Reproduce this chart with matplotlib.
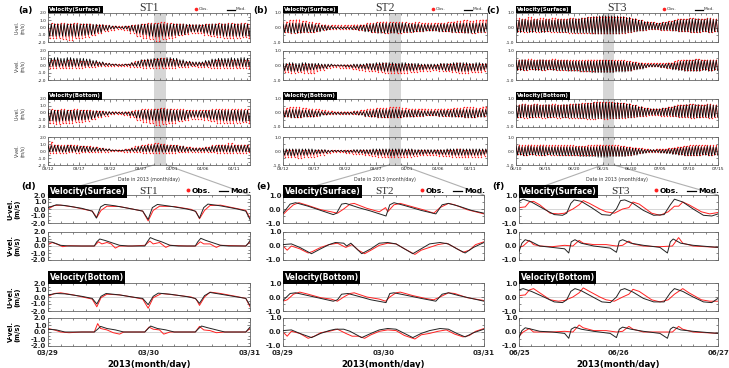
import numpy as np
import matplotlib
matplotlib.use("Agg")
import matplotlib.pyplot as plt
from matplotlib.patches import Rectangle, ConnectionPatch
from matplotlib.lines import Line2D
from matplotlib.transforms import blended_transform_factory as blend
from matplotlib.ticker import MultipleLocator

plt.rcParams['font.family'] = ['DejaVu Sans']

# ====================== DATA ======================
stations = ["ST1", "ST2", "ST3"]
top_tick_st12 = ["03/12", "03/17", "03/22", "03/27", "04/01", "04/06", "04/11"]
top_tick_st3 = ["06/10", "06/15", "06/20", "06/25", "06/30", "07/05", "07/10", "07/15"]
bot_tick_st12 = ["03/29", "03/30", "03/31"]
bot_tick_st3 = ["06/25", "06/26", "06/27"]

# ---- overview panels: daily envelope of tidal extremes (upper / lower) ----
# ST1
st1_us_mhi = [0.5,0.5,0.5,0.5,0.5,0.5,0.5,0.45,0.4,0.3,0.2,0.1,0.2,0.3,0.4,0.45,0.5,0.5,0.5,0.5,0.5,0.5,0.45,0.4,0.4,0.45,0.5,0.5,0.5,0.5,0.5,0.5,0.5]
st1_us_mlo = [-1.2,-1.2,-1.2,-1.2,-1.2,-1.1,-1.0,-0.9,-0.7,-0.4,-0.2,-0.1,-0.2,-0.5,-0.8,-1.0,-1.2,-1.3,-1.2,-1.2,-1.1,-1.0,-0.8,-0.6,-0.6,-0.8,-1.0,-1.1,-1.2,-1.2,-1.2,-1.2,-1.2]
st1_us_ohi = [0.6,0.5,0.6,0.5,0.6,0.5,0.5,0.4,0.4,0.3,0.2,0.2,0.2,0.3,0.4,0.5,0.6,0.6,0.7,0.6,0.5,0.5,0.4,0.4,0.4,0.5,0.5,0.6,0.5,0.6,0.5,0.6,0.5]
st1_us_olo = [-1.4,-1.5,-1.6,-1.7,-1.5,-1.4,-1.3,-1.1,-0.8,-0.5,-0.3,-0.2,-0.3,-0.7,-1.2,-1.5,-1.6,-1.8,-1.6,-1.5,-1.3,-1.1,-0.9,-0.7,-0.8,-1.0,-1.2,-1.3,-1.4,-1.5,-1.4,-1.3,-1.4]
st1_vs_mhi = [1.0,1.1,1.0,1.1,1.0,1.0,0.9,0.7,0.5,0.3,0.2,0.1,0.2,0.4,0.6,0.8,0.9,1.0,1.0,1.1,1.0,0.8,0.6,0.5,0.5,0.7,0.9,1.0,1.0,1.1,1.0,1.1,1.0]
st1_vs_mlo = [-0.1,-0.15,-0.1,-0.15,-0.1,-0.1,-0.1,-0.05,-0.05,0.0,0.0,0.0,0.0,-0.05,-0.1,-0.1,-0.15,-0.1,-0.15,-0.1,-0.1,-0.1,-0.05,-0.05,-0.05,-0.1,-0.1,-0.15,-0.1,-0.15,-0.1,-0.15,-0.1]
st1_vs_ohi = [0.7,0.8,0.6,0.8,0.7,0.6,0.6,0.5,0.4,0.3,0.2,0.2,0.2,0.4,0.6,0.7,0.8,0.9,1.0,0.9,0.8,0.6,0.5,0.4,0.4,0.5,0.7,0.8,0.7,0.8,0.7,0.8,0.7]
st1_vs_olo = [-0.3,-0.3,-0.4,-0.3,-0.3,-0.3,-0.2,-0.2,-0.1,-0.1,-0.1,-0.1,-0.1,-0.2,-0.2,-0.3,-0.3,-0.3,-0.4,-0.3,-0.3,-0.2,-0.2,-0.1,-0.2,-0.2,-0.3,-0.3,-0.3,-0.3,-0.4,-0.3,-0.3]
st1_ub_mhi = [0.4,0.4,0.4,0.4,0.4,0.4,0.35,0.3,0.25,0.2,0.15,0.1,0.15,0.2,0.3,0.4,0.4,0.5,0.6,0.5,0.4,0.4,0.35,0.3,0.3,0.35,0.4,0.4,0.4,0.4,0.4,0.4,0.4]
st1_ub_mlo = [-1.1,-1.2,-1.1,-1.1,-1.0,-1.0,-0.9,-0.7,-0.5,-0.3,-0.15,-0.1,-0.2,-0.4,-0.7,-0.9,-1.0,-1.1,-1.1,-1.2,-1.1,-1.0,-0.8,-0.6,-0.6,-0.7,-0.9,-1.0,-1.1,-1.1,-1.1,-1.2,-1.1]
st1_ub_ohi = [0.5,0.4,0.5,0.4,0.5,0.4,0.4,0.35,0.3,0.2,0.2,0.2,0.2,0.3,0.4,0.5,0.5,0.6,0.7,0.6,0.5,0.5,0.4,0.4,0.4,0.4,0.5,0.5,0.5,0.5,0.5,0.5,0.5]
st1_ub_olo = [-1.4,-1.6,-1.5,-1.4,-1.3,-1.3,-1.1,-0.9,-0.6,-0.4,-0.2,-0.2,-0.3,-0.6,-1.0,-1.3,-1.5,-1.7,-1.6,-1.5,-1.4,-1.2,-1.0,-0.8,-0.8,-1.0,-1.2,-1.4,-1.4,-1.5,-1.4,-1.3,-1.4]
st1_vb_mhi = [0.8,0.8,0.7,0.8,0.7,0.7,0.6,0.5,0.4,0.3,0.15,0.1,0.2,0.4,0.6,0.7,0.8,0.9,0.9,0.8,0.8,0.7,0.5,0.4,0.4,0.5,0.7,0.8,0.8,0.8,0.8,0.8,0.8]
st1_vb_mlo = [-0.1,-0.1,-0.15,-0.1,-0.1,-0.1,-0.1,-0.05,-0.05,0.0,0.0,0.0,0.0,-0.05,-0.05,-0.1,-0.1,-0.1,-0.15,-0.1,-0.1,-0.1,-0.05,-0.05,-0.05,-0.05,-0.1,-0.1,-0.1,-0.15,-0.1,-0.1,-0.1]
st1_vb_ohi = [1.3,0.9,0.8,0.9,0.8,0.7,0.7,0.6,0.4,0.3,0.2,0.2,0.3,0.5,0.7,0.8,1.0,1.1,1.0,0.9,0.8,0.7,0.6,0.5,0.5,0.6,0.8,0.9,0.9,1.1,0.9,0.9,0.8]
st1_vb_olo = [-0.25,-0.3,-0.25,-0.2,-0.25,-0.2,-0.2,-0.15,-0.1,-0.1,-0.05,-0.05,-0.1,-0.15,-0.2,-0.25,-0.3,-0.3,-0.25,-0.3,-0.25,-0.2,-0.15,-0.1,-0.1,-0.15,-0.2,-0.25,-0.3,-0.25,-0.3,-0.25,-0.2]
# ST2
st2_us_mhi = [0.25,0.3,0.3,0.3,0.25,0.2,0.15,0.1,0.05,0.05,0.05,0.1,0.15,0.2,0.25,0.3,0.3,0.3,0.3,0.3,0.25,0.25,0.2,0.2,0.2,0.25,0.25,0.3,0.3,0.3,0.3,0.3,0.3]
st2_us_mlo = [-0.35,-0.4,-0.4,-0.35,-0.35,-0.3,-0.2,-0.15,-0.1,-0.1,-0.1,-0.15,-0.2,-0.3,-0.35,-0.4,-0.4,-0.4,-0.4,-0.35,-0.35,-0.3,-0.3,-0.25,-0.25,-0.3,-0.3,-0.35,-0.35,-0.4,-0.4,-0.35,-0.35]
st2_us_ohi = [0.4,0.5,0.55,0.45,0.35,0.3,0.2,0.15,0.15,0.15,0.15,0.2,0.2,0.3,0.3,0.35,0.4,0.35,0.35,0.35,0.3,0.35,0.3,0.3,0.3,0.3,0.35,0.4,0.45,0.5,0.45,0.5,0.55]
st2_us_olo = [-0.3,-0.35,-0.3,-0.3,-0.3,-0.25,-0.15,-0.1,-0.1,-0.1,-0.1,-0.1,-0.15,-0.2,-0.3,-0.3,-0.35,-0.3,-0.35,-0.3,-0.3,-0.25,-0.25,-0.2,-0.2,-0.25,-0.25,-0.3,-0.3,-0.3,-0.35,-0.3,-0.3]
st2_vs_mhi = [0.15,0.2,0.15,0.2,0.15,0.15,0.1,0.1,0.05,0.05,0.05,0.1,0.1,0.15,0.15,0.2,0.2,0.2,0.15,0.2,0.15,0.15,0.1,0.1,0.1,0.15,0.15,0.2,0.2,0.2,0.15,0.2,0.15]
st2_vs_mlo = [-0.35,-0.4,-0.4,-0.35,-0.3,-0.25,-0.2,-0.1,-0.05,-0.05,-0.1,-0.15,-0.2,-0.25,-0.3,-0.35,-0.4,-0.4,-0.4,-0.35,-0.35,-0.3,-0.3,-0.25,-0.25,-0.3,-0.35,-0.35,-0.4,-0.4,-0.35,-0.35,-0.3]
st2_vs_ohi = [0.1,0.1,0.05,0.1,0.1,0.05,0.05,0.05,0.05,0.05,0.05,0.05,0.05,0.1,0.1,0.1,0.15,0.1,0.1,0.1,0.1,0.05,0.05,0.05,0.05,0.1,0.1,0.1,0.15,0.1,0.1,0.1,0.1]
st2_vs_olo = [-0.45,-0.5,-0.45,-0.5,-0.55,-0.4,-0.3,-0.15,-0.1,-0.15,-0.2,-0.25,-0.3,-0.35,-0.4,-0.45,-0.5,-0.5,-0.55,-0.5,-0.45,-0.45,-0.4,-0.35,-0.3,-0.35,-0.4,-0.45,-0.5,-0.5,-0.45,-0.45,-0.4]
st2_ub_mhi = [0.2,0.25,0.25,0.2,0.2,0.15,0.1,0.05,0.05,0.05,0.05,0.1,0.1,0.15,0.2,0.25,0.25,0.25,0.25,0.2,0.2,0.2,0.15,0.15,0.15,0.2,0.2,0.25,0.25,0.25,0.25,0.25,0.25]
st2_ub_mlo = [-0.3,-0.35,-0.35,-0.3,-0.3,-0.25,-0.15,-0.1,-0.1,-0.1,-0.1,-0.1,-0.15,-0.25,-0.3,-0.35,-0.35,-0.35,-0.35,-0.3,-0.3,-0.25,-0.25,-0.2,-0.2,-0.25,-0.25,-0.3,-0.3,-0.35,-0.35,-0.3,-0.3]
st2_ub_ohi = [0.35,0.4,0.4,0.35,0.3,0.25,0.2,0.15,0.1,0.1,0.1,0.15,0.2,0.25,0.3,0.35,0.35,0.4,0.4,0.35,0.3,0.3,0.3,0.25,0.25,0.3,0.3,0.35,0.35,0.4,0.4,0.35,0.45]
st2_ub_olo = [-0.25,-0.3,-0.3,-0.25,-0.25,-0.2,-0.1,-0.1,-0.05,-0.05,-0.05,-0.1,-0.1,-0.2,-0.25,-0.3,-0.3,-0.3,-0.3,-0.25,-0.25,-0.2,-0.2,-0.15,-0.15,-0.2,-0.2,-0.25,-0.25,-0.3,-0.3,-0.25,-0.25]
st2_vb_mhi = [0.15,0.15,0.15,0.15,0.15,0.1,0.1,0.05,0.05,0.05,0.05,0.1,0.1,0.1,0.15,0.15,0.15,0.15,0.15,0.15,0.15,0.1,0.1,0.1,0.1,0.1,0.15,0.15,0.15,0.15,0.15,0.15,0.15]
st2_vb_mlo = [-0.3,-0.35,-0.3,-0.3,-0.25,-0.2,-0.15,-0.1,-0.05,-0.05,-0.1,-0.1,-0.15,-0.2,-0.25,-0.3,-0.3,-0.35,-0.3,-0.3,-0.3,-0.25,-0.25,-0.2,-0.2,-0.25,-0.25,-0.3,-0.3,-0.3,-0.3,-0.3,-0.25]
st2_vb_ohi = [0.1,0.1,0.1,0.05,0.05,0.05,0.05,0.05,0.05,0.05,0.05,0.05,0.05,0.05,0.1,0.1,0.1,0.1,0.1,0.1,0.1,0.05,0.05,0.05,0.05,0.05,0.1,0.1,0.15,0.1,0.1,0.1,0.1]
st2_vb_olo = [-0.4,-0.45,-0.5,-0.4,-0.4,-0.35,-0.25,-0.15,-0.1,-0.1,-0.15,-0.2,-0.2,-0.3,-0.35,-0.4,-0.45,-0.45,-0.4,-0.45,-0.4,-0.35,-0.3,-0.3,-0.3,-0.35,-0.35,-0.4,-0.4,-0.45,-0.4,-0.4,-0.35]
# ST3
st3_us_mhi = [0.5,0.55,0.5,0.55,0.5,0.55,0.5,0.55,0.55,0.6,0.6,0.65,0.7,0.75,0.8,0.8,0.8,0.8,0.75,0.7,0.6,0.5,0.4,0.35,0.3,0.35,0.4,0.5,0.55,0.55,0.6,0.6,0.55,0.6,0.55]
st3_us_mlo = [-0.35,-0.3,-0.35,-0.3,-0.35,-0.3,-0.3,-0.35,-0.35,-0.35,-0.4,-0.4,-0.4,-0.45,-0.45,-0.45,-0.45,-0.45,-0.4,-0.35,-0.3,-0.25,-0.2,-0.15,-0.15,-0.2,-0.2,-0.25,-0.3,-0.3,-0.35,-0.35,-0.3,-0.35,-0.3]
st3_us_ohi = [0.65,0.6,0.7,0.6,0.65,0.6,0.65,0.6,0.6,0.65,0.6,0.65,0.7,0.7,0.75,0.75,0.75,0.7,0.7,0.65,0.6,0.5,0.4,0.35,0.3,0.35,0.45,0.5,0.6,0.6,0.65,0.6,0.6,0.65,0.6]
st3_us_olo = [-0.25,-0.3,-0.25,-0.3,-0.25,-0.25,-0.3,-0.3,-0.3,-0.35,-0.35,-0.35,-0.35,-0.4,-0.4,-0.4,-0.35,-0.35,-0.35,-0.3,-0.25,-0.2,-0.15,-0.1,-0.1,-0.15,-0.15,-0.2,-0.25,-0.25,-0.3,-0.3,-0.25,-0.3,-0.25]
st3_vs_mhi = [0.35,0.4,0.35,0.35,0.4,0.35,0.35,0.35,0.35,0.3,0.3,0.3,0.3,0.3,0.35,0.35,0.35,0.3,0.3,0.25,0.2,0.15,0.1,0.1,0.1,0.1,0.15,0.2,0.3,0.35,0.35,0.4,0.35,0.35,0.35]
st3_vs_mlo = [-0.35,-0.35,-0.3,-0.35,-0.35,-0.3,-0.35,-0.35,-0.35,-0.4,-0.4,-0.45,-0.45,-0.5,-0.5,-0.5,-0.5,-0.45,-0.45,-0.4,-0.3,-0.25,-0.15,-0.1,-0.1,-0.15,-0.2,-0.3,-0.35,-0.4,-0.4,-0.4,-0.35,-0.4,-0.35]
st3_vs_ohi = [0.4,0.4,0.45,0.4,0.4,0.4,0.45,0.4,0.4,0.35,0.35,0.35,0.4,0.4,0.4,0.4,0.35,0.35,0.35,0.3,0.25,0.2,0.15,0.15,0.15,0.15,0.2,0.3,0.35,0.4,0.4,0.45,0.4,0.4,0.4]
st3_vs_olo = [-0.25,-0.3,-0.25,-0.25,-0.3,-0.25,-0.25,-0.3,-0.3,-0.3,-0.3,-0.35,-0.35,-0.35,-0.35,-0.35,-0.35,-0.3,-0.3,-0.3,-0.25,-0.2,-0.1,-0.05,-0.05,-0.1,-0.15,-0.2,-0.25,-0.3,-0.3,-0.3,-0.25,-0.3,-0.25]
st3_ub_mhi = [0.55,0.6,0.55,0.6,0.55,0.6,0.55,0.55,0.6,0.6,0.65,0.65,0.7,0.75,0.75,0.75,0.75,0.75,0.7,0.65,0.55,0.45,0.35,0.3,0.3,0.35,0.4,0.5,0.55,0.6,0.6,0.6,0.55,0.6,0.55]
st3_ub_mlo = [-0.35,-0.3,-0.35,-0.3,-0.3,-0.35,-0.3,-0.3,-0.35,-0.35,-0.35,-0.4,-0.4,-0.4,-0.4,-0.4,-0.4,-0.4,-0.35,-0.35,-0.3,-0.25,-0.2,-0.15,-0.15,-0.2,-0.2,-0.25,-0.3,-0.3,-0.35,-0.35,-0.3,-0.35,-0.3]
st3_ub_ohi = [0.6,0.65,0.6,0.65,0.6,0.6,0.65,0.6,0.6,0.65,0.65,0.7,0.7,0.75,0.8,0.75,0.75,0.7,0.7,0.65,0.55,0.45,0.35,0.3,0.3,0.35,0.45,0.5,0.6,0.6,0.65,0.6,0.6,0.65,0.6]
st3_ub_olo = [-0.3,-0.35,-0.3,-0.3,-0.35,-0.3,-0.3,-0.35,-0.3,-0.35,-0.35,-0.35,-0.4,-0.4,-0.35,-0.4,-0.35,-0.35,-0.35,-0.3,-0.3,-0.25,-0.2,-0.15,-0.15,-0.2,-0.2,-0.25,-0.3,-0.3,-0.35,-0.3,-0.3,-0.35,-0.3]
st3_vb_mhi = [0.35,0.3,0.35,0.3,0.35,0.3,0.3,0.3,0.3,0.3,0.3,0.3,0.3,0.3,0.35,0.35,0.35,0.3,0.3,0.25,0.2,0.15,0.1,0.1,0.1,0.1,0.15,0.2,0.25,0.3,0.3,0.35,0.3,0.35,0.3]
st3_vb_mlo = [-0.3,-0.35,-0.3,-0.3,-0.35,-0.3,-0.3,-0.35,-0.35,-0.35,-0.35,-0.4,-0.4,-0.4,-0.45,-0.45,-0.4,-0.4,-0.4,-0.35,-0.3,-0.2,-0.15,-0.1,-0.1,-0.15,-0.2,-0.25,-0.3,-0.35,-0.35,-0.35,-0.3,-0.35,-0.3]
st3_vb_ohi = [0.45,0.4,0.45,0.4,0.45,0.4,0.4,0.4,0.4,0.4,0.35,0.35,0.4,0.4,0.45,0.4,0.4,0.4,0.35,0.3,0.25,0.2,0.15,0.1,0.15,0.15,0.2,0.25,0.3,0.35,0.4,0.4,0.4,0.4,0.4]
st3_vb_olo = [-0.2,-0.25,-0.2,-0.25,-0.25,-0.2,-0.25,-0.25,-0.25,-0.25,-0.3,-0.3,-0.3,-0.3,-0.3,-0.3,-0.3,-0.3,-0.25,-0.25,-0.2,-0.15,-0.1,-0.05,-0.05,-0.1,-0.1,-0.15,-0.2,-0.25,-0.25,-0.25,-0.2,-0.25,-0.2]

# ---- zoomed panels: (hour since start, velocity) ----
# ST1 (d)
d_us_mt = [0,2,4,8,10.5,11.5,12.5,13.5,16,20,22.5,23.8,24.8,26,29,33,35,36,37,38,41,45,47,48]
d_us_mv = [0.2,0.6,0.5,0.1,-0.3,-1.3,0.3,0.65,0.45,0.0,-0.3,-1.5,0.2,0.65,0.4,0.0,-0.3,-1.3,0.2,0.7,0.45,0.0,-0.3,-1.5]
d_us_ot = [0,1.5,3,6,10.5,11.6,12.6,14,17,20,22.5,23.8,25,26.5,30,34,35.2,36,37.2,38.5,41,45,47,48]
d_us_ov = [0.0,0.5,0.55,0.3,-0.3,-1.2,-0.2,0.4,0.35,0.0,-0.3,-1.7,-0.2,0.4,0.35,-0.05,-0.4,-1.4,-0.2,0.5,0.55,0.05,-0.2,-1.3]
d_vs_mt = [0,1,3,5,11,11.6,12.3,13.5,15,17,19,23,23.6,24.3,25.5,27,29,31,35,35.6,36.3,37.5,39,41,43,47,47.6,48]
d_vs_mv = [0.6,0.55,0.1,0.0,0.0,0.6,1.0,0.8,0.5,0.1,0.0,0.0,0.6,1.2,0.9,0.6,0.1,0.0,0.0,0.6,1.1,0.8,0.5,0.1,0.0,0.0,0.4,0.8]
d_vs_ot = [0,1,2,3.5,5,8,11,12,12.8,14,15,16,17,20,23,24.2,25,26.5,28,29,33,35,36.2,37,38.5,40,41,44,47,48]
d_vs_ov = [0.2,0.5,0.3,-0.1,0.05,0.0,0.0,0.6,0.3,0.5,0.3,-0.3,0.0,0.0,0.1,0.7,0.3,0.5,-0.2,0.1,0.0,0.0,0.6,0.3,0.3,-0.2,0.1,0.05,0.0,0.6]
d_ub_mt = [0,2,4,8,10.5,11.6,12.6,13.8,17,20,22.5,23.8,25,26.2,29,33,35,36,37.2,38.5,41,45,47,48]
d_ub_mv = [0.3,0.5,0.45,0.1,-0.2,-1.0,0.1,0.5,0.3,0.0,-0.2,-1.1,0.1,0.55,0.4,0.05,-0.2,-0.9,0.2,0.65,0.4,0.0,-0.2,-1.2]
d_ub_ot = [0,1.5,3,6,10.5,11.6,12.6,14,17,20,22.5,23.8,25,27,30,34,35.2,36,37.2,38.5,41,45,47,48]
d_ub_ov = [0.1,0.5,0.6,0.3,-0.3,-1.4,-0.1,0.4,0.3,0.0,-0.3,-1.6,-0.1,0.5,0.3,0.0,-0.3,-1.2,0.0,0.7,0.5,0.05,-0.2,-1.4]
d_vb_mt = [0,2,4,11,11.8,12.5,14,16,18,23,23.8,24.4,26,28,30,35,35.8,36.5,38,40,42,47,48]
d_vb_mv = [0.4,0.3,0.0,0.0,0.4,0.8,0.5,0.3,0.0,0.0,0.5,0.85,0.5,0.3,0.0,0.0,0.5,0.85,0.6,0.3,0.0,0.0,0.7]
d_vb_ot = [0,1.5,3,5,8,11,11.8,12.5,14,15.5,17,18,23,24,25,26.5,27.5,29,35,36,37,38.5,40,42,47,48]
d_vb_ov = [0.5,0.3,0.0,-0.1,0.0,0.0,1.2,0.5,0.3,-0.1,-0.3,0.0,0.0,0.7,0.4,0.3,-0.3,0.0,0.0,0.8,0.3,0.2,-0.1,0.0,0.0,0.5]
# ST2 (e)
e_us_mt = [0,1.7,3,6,9,12,12.8,14,15,18,21,24.6,25.5,26.5,29,33,36.5,38,39.5,42,45,48]
e_us_mv = [-0.3,0.35,0.45,0.2,-0.1,-0.4,-0.3,0.35,0.4,0.1,-0.15,-0.5,0.3,0.45,0.25,-0.1,-0.35,0.3,0.4,0.2,-0.1,-0.3]
e_us_ot = [0,1,2.5,3.8,6,9,11.5,13,14.5,16,17,20,23,24.5,25,26.5,28,31,34,36,37.5,39.5,41,44,48]
e_us_ov = [-0.4,-0.1,0.3,0.45,0.25,-0.05,-0.2,-0.3,0.0,0.35,0.4,0.05,-0.2,0.1,-0.2,0.3,0.4,0.15,-0.1,-0.3,0.1,0.4,0.3,-0.05,-0.35]
e_vs_mt = [0,2,4,6.8,9,11,12.5,14.5,15.2,16.2,18.8,21,23,25,27,29,31,33,35,37.5,39.5,41.5,43.5,45.5,48]
e_vs_mv = [0.1,0.15,-0.1,-0.55,-0.2,0.1,0.25,0.2,0.0,0.2,-0.55,-0.2,0.2,0.25,0.15,-0.2,-0.55,-0.2,0.15,0.25,0.15,-0.2,-0.5,-0.1,0.25]
e_vs_ot = [0,1,2,4,6,7,9,11,13,15,16.5,18,19.5,21,23,25,27,29,31.5,33,35,37,39,41,43,44.5,46,48]
e_vs_ov = [0.0,-0.3,0.0,-0.2,-0.5,-0.4,-0.1,0.1,0.2,-0.1,0.1,-0.3,-0.55,-0.3,0.05,0.2,0.15,-0.2,-0.6,-0.3,-0.1,0.1,0.2,-0.1,-0.45,-0.3,0.1,0.3]
e_ub_mt = [0,1.7,3,6,9,12,13,14,15.5,18,21,24.6,25.5,26.5,29,33,36.5,38,39.5,42,45,48]
e_ub_mv = [-0.25,0.25,0.3,0.1,-0.1,-0.3,-0.2,0.2,0.25,0.05,-0.2,-0.4,0.25,0.3,0.15,-0.1,-0.3,0.2,0.3,0.1,-0.1,-0.3]
e_ub_ot = [0,1,2.5,4,6,9,11.5,13,14.5,16,17,20,23,24.5,25.5,27,28,31,34,36,37.5,39.5,41,44,48]
e_ub_ov = [-0.3,-0.2,0.2,0.35,0.2,-0.05,-0.15,-0.3,0.0,0.25,0.3,0.0,-0.15,-0.3,0.0,0.3,0.35,0.1,-0.1,-0.2,0.0,0.3,0.25,-0.05,-0.25]
e_vb_mt = [0,2,4,6.8,9,11,12.5,14.5,16,18.8,21,23,25,27,29,31,33,35,37.5,39.5,41.5,43.5,45.5,48]
e_vb_mv = [0.1,0.15,-0.1,-0.4,-0.1,0.1,0.2,0.2,0.05,-0.4,-0.1,0.15,0.25,0.2,-0.1,-0.4,-0.1,0.1,0.25,0.2,-0.1,-0.35,-0.05,0.2]
e_vb_ot = [0,1,2,4,6,7.5,9,11,13,15,16.5,18,19.5,21,23,25,27,29,31.5,33,35,37,39,41,43,44.5,46,48]
e_vb_ov = [0.0,-0.3,0.05,-0.1,-0.45,-0.3,-0.05,0.05,0.2,-0.1,-0.3,-0.3,-0.45,-0.2,0.05,0.15,0.1,-0.25,-0.5,-0.2,-0.1,0.05,0.15,-0.15,-0.35,-0.25,0.05,0.25]
# ST3 (f)
f_us_mt = [0,1,3,6,8.5,10.5,11.5,12.5,13.3,15,17.5,20,22,23.5,24.5,25.5,27.5,30,32.5,35,36.5,37.5,39.5,42,44.5,46.5,48]
f_us_mv = [0.55,0.7,0.5,0.0,-0.4,-0.45,-0.3,0.4,0.65,0.55,0.1,-0.4,-0.45,0.0,0.6,0.65,0.4,-0.1,-0.45,-0.4,0.3,0.7,0.5,0.0,-0.45,-0.5,-0.35]
f_us_ot = [0,1.5,2.5,3.5,5,7.5,9.5,11,13,14.5,15.5,17,19.5,21,23,25,26.5,27.5,29,32,34,36,37.5,38.5,39.5,41,44,46,48]
f_us_ov = [0.1,0.15,0.5,0.55,0.3,-0.3,-0.35,-0.3,0.0,0.3,0.6,0.4,0.0,-0.2,-0.3,0.0,0.1,0.5,0.35,-0.3,-0.45,-0.2,0.2,0.2,0.5,0.3,-0.2,-0.35,-0.25]
f_vs_mt = [0,0.7,1.5,3,5,8,11,12,12.6,13.5,15,18,22,23.5,24.2,25,27,30,34,35.8,36.5,37.2,39,42,48]
f_vs_mv = [-0.4,0.2,0.45,0.3,0.0,-0.1,-0.2,-0.5,0.3,0.45,0.2,0.0,-0.15,-0.45,0.35,0.45,0.2,0.05,-0.1,-0.5,0.3,0.5,0.2,0.05,-0.1]
f_vs_ot = [0,1,2.5,3.5,5,8,11,13,14.5,15.5,18,21,23.5,25,26.5,27.5,30,34,37,38.5,39.5,42,48]
f_vs_ov = [-0.1,0.0,0.4,0.1,0.0,-0.05,0.05,0.0,0.4,0.2,0.1,0.1,0.0,0.05,0.35,0.15,0.0,-0.05,0.0,0.6,0.2,0.0,-0.1]
f_ub_mt = [0,1,3,6,8.5,10.5,11.5,12.5,13.5,15,17.5,20,22,23.5,24.5,25.5,27.5,30,32.5,35,36.5,37.5,39.5,42,44.5,46.5,48]
f_ub_mv = [0.5,0.6,0.4,0.0,-0.35,-0.4,-0.2,0.4,0.6,0.45,0.05,-0.35,-0.4,0.0,0.5,0.6,0.35,-0.1,-0.35,-0.35,0.3,0.6,0.4,0.0,-0.35,-0.4,-0.1]
f_ub_ot = [0,1.5,2.5,3.5,5,7.5,9.5,11,13,14.5,15.5,17,19.5,21,23,25,26.5,27.5,29,32,34,36,37.5,39.5,41,44,46,48]
f_ub_ov = [0.1,0.15,0.5,0.6,0.3,-0.2,-0.3,-0.25,0.0,0.3,0.65,0.4,0.0,-0.2,-0.3,0.0,0.2,0.55,0.4,-0.2,-0.35,-0.2,0.2,0.6,0.3,-0.2,-0.3,-0.3]
f_vb_mt = [0,0.7,1.5,3,5,8,11,12,12.6,13.5,15,18,22,23.5,24.2,25,27,30,34,35.8,36.5,37.2,39,42,48]
f_vb_mv = [-0.4,0.1,0.3,0.2,0.05,0.0,-0.1,-0.45,0.2,0.35,0.2,0.05,-0.1,-0.4,0.2,0.35,0.2,0.05,-0.1,-0.45,0.2,0.35,0.15,0.05,-0.1]
f_vb_ot = [0,1,2.5,3.5,5,8,11,13,14.5,15.5,18,21,23.5,25,26.5,27.5,30,34,37,38.5,39.5,42,48]
f_vb_ov = [-0.3,0.0,0.25,0.0,0.0,0.0,0.05,0.0,0.5,0.3,0.1,0.1,0.0,0.05,0.4,0.2,0.0,0.0,0.0,0.4,0.2,0.0,-0.1]

# ====================== LAYOUT ======================
W, H = 729, 368
fig = plt.figure(figsize=(7.29, 3.68), dpi=100)

def R(x0, x1, y0, y1):
    return [x0 / W, 1 - y1 / H, (x1 - x0) / W, (y1 - y0) / H]

def FX(x): return x / W
def FY(y): return 1 - y / H

RED = '#ff2020'
HALF_TIDE = 12.42 / 48.0

def tidal_trace(hi, lo, shift):
    t = np.arange(shift, len(hi), HALF_TIDE)
    k = np.arange(t.size)
    d = np.clip(t.astype(int), 0, len(hi) - 1)
    v = np.where(k % 2 == 0, np.asarray(hi)[d], np.asarray(lo)[d])
    return t, v

def style(ax, fs):
    ax.set_facecolor('none')
    ax.tick_params(which='both', direction='in', top=True, right=True,
                   color='#555555', labelcolor='#222222', labelsize=fs,
                   pad=1.2, width=0.5)
    ax.tick_params(which='major', length=2.2)
    ax.tick_params(which='minor', length=1.2)
    for s in ax.spines.values():
        s.set_linewidth(0.6)
        s.set_color('#666666')

def header(x, y, s, fs):
    fig.text(FX(x), FY(y), s, color='white', fontweight='bold', fontsize=fs,
             va='center', ha='left',
             bbox=dict(boxstyle='square,pad=0.2', fc='black', ec='none'))

rows_top = [(13, 42), (51, 80), (99, 127), (137, 165)]
rows_bot = [(195, 223), (232, 260), (283, 311), (318, 346)]
ylabels = ["U-vel.\n(m/s)", "V-vel.\n(m/s)", "U-vel.\n(m/s)", "V-vel.\n(m/s)"]

def top_panel(x0, x1, letter, st, series, ylim, xmax, ticklabels, band, show_ylab):
    axes = []
    for i, (y0, y1) in enumerate(rows_top):
        ax = fig.add_axes(R(x0, x1, y0, y1))
        style(ax, 3.2)
        mhi, mlo, ohi, olo = series[i]
        to, vo = tidal_trace(ohi, olo, 0.06)
        tm, vm = tidal_trace(mhi, mlo, 0.0)
        ax.plot(to, vo, color=RED, lw=0.35, marker='o', ms=1.0, mew=0, zorder=2)
        ax.plot(tm, vm, color='black', lw=0.55, zorder=3)
        ax.set_xlim(0, xmax)
        ax.set_ylim(-ylim, ylim)
        yt = np.arange(-ylim, ylim + 0.01, 1.0)
        ax.set_yticks(yt, ['%.1f' % v for v in yt])
        ax.yaxis.set_minor_locator(MultipleLocator(0.5))
        ax.set_xticks(np.arange(len(ticklabels)) * 5)
        ax.xaxis.set_minor_locator(MultipleLocator(1))
        if i < 3:
            ax.set_xticklabels([])
        else:
            ax.set_xticklabels(ticklabels)
        if show_ylab:
            fig.text(FX(20), FY((y0 + y1) / 2), ylabels[i], rotation=90,
                     fontsize=3.3, ha='center', va='center', color='#333333',
                     linespacing=1.1)
        axes.append(ax)
    # shaded window
    tr = blend(axes[0].transData, fig.transFigure)
    fig.add_artist(Rectangle((band[0], FY(165)), band[1] - band[0],
                             (165 - 13) / H, transform=tr,
                             fc='#d6d6d6', ec='none', zorder=-1))
    header(x0 + 1.2, 9.5, "Velocity(Surface)", 3.9)
    header(x0 + 1.2, 96, "Velocity(Bottom)", 3.9)
    fig.text(FX((x0 + x1) / 2), FY(8), st, family='Liberation Serif',
             fontsize=8.5, ha='center', va='center', color='#333333')
    fig.text(FX(x0 - 30), FY(11), letter, fontsize=6.5, fontweight='bold',
             ha='left', va='center')
    fig.add_artist(Line2D([FX(x1 - 54)], [FY(9)], marker='o', ms=2.6,
                          color=RED, mew=0, transform=fig.transFigure))
    fig.text(FX(x1 - 51), FY(9.5), "Obs.", fontsize=3.2, ha='left',
             va='center', color='#333333')
    fig.add_artist(Line2D([FX(x1 - 23), FX(x1 - 15)], [FY(9.5), FY(9.5)],
                          color='black', lw=0.9, transform=fig.transFigure))
    fig.text(FX(x1 - 14), FY(9.5), "Mod.", fontsize=3.2, ha='left',
             va='center', color='#333333')
    fig.text(FX((x0 + x1) / 2), FY(180), "Date in 2013 (month/day)",
             fontsize=3.4, ha='center', va='center', color='#333333')
    return axes

def bot_panel(x0, x1, letter, st, series, ylim, ticklabels, show_ylab):
    axes = []
    for i, (y0, y1) in enumerate(rows_bot):
        ax = fig.add_axes(R(x0, x1, y0, y1))
        style(ax, 5.0)
        mt, mv, ot, ov = series[i]
        ax.axhline(0, color='#cfcfcf', lw=0.6, zorder=1)
        ax.plot(ot, ov, color=RED, lw=0.7, zorder=2)
        ax.plot(mt, mv, color='#222222', lw=0.7, zorder=3)
        ax.set_xlim(0, 48)
        ax.set_ylim(-ylim, ylim)
        yt = np.arange(ylim, -ylim - 0.01, -1.0)
        ax.set_yticks(yt, ['%.1f' % v for v in yt], fontweight='bold')
        ax.yaxis.set_minor_locator(MultipleLocator(0.5))
        ax.set_xticks([0, 24, 48])
        ax.xaxis.set_minor_locator(MultipleLocator(3))
        if i < 3:
            ax.set_xticklabels([])
        else:
            ax.set_xticklabels(ticklabels, fontweight='bold')
            ax.tick_params(axis='x', pad=3)
        if show_ylab:
            fig.text(FX(14), FY((y0 + y1) / 2), ylabels[i], rotation=90,
                     fontsize=4.8, fontweight='bold', ha='center',
                     va='center', linespacing=1.1)
        axes.append(ax)
    header(x0 + 1.5, 191.5, "Velocity(Surface)", 5.6)
    header(x0 + 1.5, 277.5, "Velocity(Bottom)", 5.6)
    fig.text(FX(x0 + 101), FY(191), st, family='Liberation Serif',
             fontsize=8, ha='center', va='center', color='#333333')
    fig.text(FX(x0 - 27), FY(187), letter, fontsize=6.5, fontweight='bold',
             ha='left', va='center')
    fig.add_artist(Line2D([FX(x1 - 62)], [FY(190)], marker='o', ms=2.8,
                          color=RED, mew=0, transform=fig.transFigure))
    fig.text(FX(x1 - 58), FY(191.5), "Obs.", fontsize=5.4, fontweight='bold',
             ha='left', va='center')
    fig.add_artist(Line2D([FX(x1 - 31), FX(x1 - 22)], [FY(190.5), FY(190.5)],
                          color='black', lw=0.9, transform=fig.transFigure))
    fig.text(FX(x1 - 20), FY(191.5), "Mod.", fontsize=5.4, fontweight='bold',
             ha='left', va='center')
    fig.text(FX((x0 + x1) / 2), FY(360), "2013(month/day)", fontsize=6.2,
             fontweight='bold', ha='center', va='top')
    return axes

def connect(ax_top, ax_bot, band, ylim):
    for bx, fx in ((band[0], 0), (band[1], 1)):
        con = ConnectionPatch(xyA=(bx, -ylim), coordsA='data', axesA=ax_top,
                              xyB=(fx, 1), coordsB='axes fraction', axesB=ax_bot,
                              color='#b0b0b0', lw=0.8, zorder=-0.5)
        fig.add_artist(con)

st1_series = [(st1_us_mhi, st1_us_mlo, st1_us_ohi, st1_us_olo),
              (st1_vs_mhi, st1_vs_mlo, st1_vs_ohi, st1_vs_olo),
              (st1_ub_mhi, st1_ub_mlo, st1_ub_ohi, st1_ub_olo),
              (st1_vb_mhi, st1_vb_mlo, st1_vb_ohi, st1_vb_olo)]
st2_series = [(st2_us_mhi, st2_us_mlo, st2_us_ohi, st2_us_olo),
              (st2_vs_mhi, st2_vs_mlo, st2_vs_ohi, st2_vs_olo),
              (st2_ub_mhi, st2_ub_mlo, st2_ub_ohi, st2_ub_olo),
              (st2_vb_mhi, st2_vb_mlo, st2_vb_ohi, st2_vb_olo)]
st3_series = [(st3_us_mhi, st3_us_mlo, st3_us_ohi, st3_us_olo),
              (st3_vs_mhi, st3_vs_mlo, st3_vs_ohi, st3_vs_olo),
              (st3_ub_mhi, st3_ub_mlo, st3_ub_ohi, st3_ub_olo),
              (st3_vb_mhi, st3_vb_mlo, st3_vb_ohi, st3_vb_olo)]
d_series = [(d_us_mt, d_us_mv, d_us_ot, d_us_ov), (d_vs_mt, d_vs_mv, d_vs_ot, d_vs_ov),
            (d_ub_mt, d_ub_mv, d_ub_ot, d_ub_ov), (d_vb_mt, d_vb_mv, d_vb_ot, d_vb_ov)]
e_series = [(e_us_mt, e_us_mv, e_us_ot, e_us_ov), (e_vs_mt, e_vs_mv, e_vs_ot, e_vs_ov),
            (e_ub_mt, e_ub_mv, e_ub_ot, e_ub_ov), (e_vb_mt, e_vb_mv, e_vb_ot, e_vb_ov)]
f_series = [(f_us_mt, f_us_mv, f_us_ot, f_us_ov), (f_vs_mt, f_vs_mv, f_vs_ot, f_vs_ov),
            (f_ub_mt, f_ub_mv, f_ub_ot, f_ub_ov), (f_vb_mt, f_vb_mv, f_vb_ot, f_vb_ov)]

ta = top_panel(48, 250, "(a)", stations[0], st1_series, 2, 32.5, top_tick_st12, (17, 19), True)
tb = top_panel(283, 487, "(b)", stations[1], st2_series, 1, 32.8, top_tick_st12, (17, 19), False)
tc = top_panel(516, 718, "(c)", stations[2], st3_series, 1, 35, top_tick_st3, (15, 17), False)

bd = bot_panel(48, 250, "(d)", stations[0], d_series, 2, bot_tick_st12, True)
be = bot_panel(283, 484, "(e)", stations[1], e_series, 1, bot_tick_st12, False)
bf = bot_panel(519, 718, "(f)", stations[2], f_series, 1, bot_tick_st3, False)

connect(ta[3], bd[0], (17, 19), 2)
connect(tb[3], be[0], (17, 19), 1)
connect(tc[3], bf[0], (15, 17), 1)

fig.savefig("out.png", dpi=100, facecolor='white')
